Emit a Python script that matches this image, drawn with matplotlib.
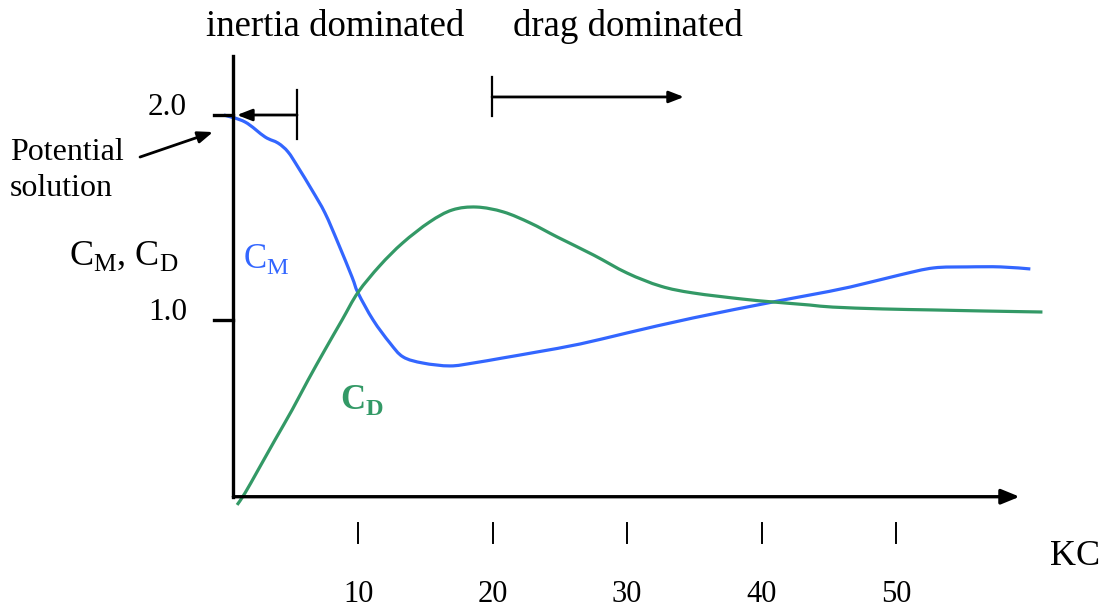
import matplotlib
matplotlib.use("Agg")
import matplotlib.pyplot as plt
from matplotlib.path import Path
from matplotlib.patches import PathPatch

plt.rcParams['font.family'] = ['Liberation Serif', 'DejaVu Serif']
plt.rcParams['mathtext.fontset'] = 'custom'
plt.rcParams['mathtext.rm'] = 'Liberation Serif'
plt.rcParams['mathtext.bf'] = 'Liberation Serif:bold'

# C_M curve (KC, coefficient)
kc_m = [0.0, 1.57, 3.06, 4.03, 4.77, 5.51, 6.55, 7.52, 8.49, 9.53, 9.98, 11.1, 12.35,
        13.33, 14.81, 16.82, 18.53, 20.76, 23.3, 26.5, 30.0, 34.9, 40.85, 43.6, 46.6,
        50.3, 52.8, 55.3, 57.8, 60.0]
cm = [2.0, 1.966, 1.893, 1.863, 1.820, 1.746, 1.634, 1.522, 1.376, 1.210, 1.132, 1.000,
      0.888, 0.820, 0.790, 0.776, 0.790, 0.815, 0.844, 0.883, 0.937, 1.010, 1.088, 1.122,
      1.161, 1.220, 1.254, 1.259, 1.259, 1.249]

# C_D curve
kc_d = [0.98, 1.57, 2.54, 3.80, 5.07, 6.26, 7.52, 8.79, 9.98, 11.6, 13.3, 15.3, 17.0,
        18.8, 20.8, 22.8, 24.8, 27.5, 30.0, 32.5, 34.9, 38.6, 40.85, 43.6, 45.3, 49.0,
        52.8, 56.5, 60.9]
cd = [0.098, 0.156, 0.268, 0.415, 0.561, 0.707, 0.855, 1.000, 1.135, 1.265, 1.376, 1.478,
      1.537, 1.551, 1.527, 1.473, 1.405, 1.317, 1.229, 1.165, 1.132, 1.102, 1.088, 1.073,
      1.063, 1.054, 1.049, 1.044, 1.039]

xticks = [10, 20, 30, 40, 50]
yticks = [1.0, 2.0]

blue = '#3366ff'
green = '#339966'


def smooth_path(xs, ys):
    # Catmull-Rom style bezier through the read points, for a smooth stroke
    verts = [(xs[0], ys[0])]
    codes = [Path.MOVETO]
    n = len(xs)
    for i in range(n - 1):
        xa, ya = (xs[i - 1], ys[i - 1]) if i > 0 else (xs[i], ys[i])
        xb, yb = xs[i], ys[i]
        xc, yc = xs[i + 1], ys[i + 1]
        xd, yd = (xs[i + 2], ys[i + 2]) if i + 2 < n else (xc, yc)
        verts += [(xb + (xc - xa) / 6, yb + (yc - ya) / 6),
                  (xc - (xd - xb) / 6, yc - (yd - yb) / 6),
                  (xc, yc)]
        codes += [Path.CURVE4] * 3
    return Path(verts, codes)


fig = plt.figure(figsize=(11.04, 6.10), dpi=100)
ax = fig.add_axes([0, 0, 1, 1])
ax.set_xlim(-16.66, 65.48)
ax.set_ylim(-0.4146, 2.561)
ax.axis('off')

x0, y0 = 0.7, 0.138   # where the drawn axes cross

# axes with arrow on KC
ax.plot([x0, x0], [y0, 2.29], color='black', lw=2.4, solid_capstyle='projecting')
ax.annotate('', xy=(59.2, y0), xytext=(x0, y0),
            arrowprops=dict(arrowstyle='-|>,head_length=1.1,head_width=0.45',
                            color='black', lw=2.4, shrinkA=0, shrinkB=0))

# y ticks
for v in yticks:
    ax.plot([-0.74, x0], [v, v], color='black', lw=2.4)
    ax.text(-2.75, v + 0.035, f'{v:.1f}', ha='right', va='center', fontsize=22.5)

# x ticks (drawn below the axis)
for t in xticks:
    ax.plot([t, t], [0.01, -0.088], color='black', lw=1.4)
    ax.text(t, -0.341, str(t), ha='center', va='center', fontsize=22)
ax.text(63.3, -0.156, 'KC', ha='center', va='center', fontsize=26)

# curves
ax.add_patch(PathPatch(smooth_path(kc_m, cm), fill=False, edgecolor=blue, lw=2.3,
                       capstyle='butt'))
ax.add_patch(PathPatch(smooth_path(kc_d, cd), fill=False, edgecolor=green, lw=2.3,
                       capstyle='butt'))

# labels
ax.text(-7.45, 1.31, r'C$_{\mathrm{M}}$, C$_{\mathrm{D}}$', ha='center', va='center',
        fontsize=26)
ax.text(1.45, 1.30, r'C$_{\mathrm{M}}$', ha='left', va='center', fontsize=25, color=blue)
ax.text(8.6, 0.61, r'$\mathbf{C}_{\mathbf{D}}$', ha='left', va='center', fontsize=25,
        color=green)

# regime brackets
ax.text(8.26, 2.43, 'inertia dominated', ha='center', va='center', fontsize=26.5)
ax.text(30.06, 2.43, 'drag dominated', ha='center', va='center', fontsize=26.5)
ax.plot([5.44, 5.44], [1.883, 2.122], color='black', lw=1.6)
ax.annotate('', xy=(0.97, 2.0), xytext=(5.44, 2.0),
            arrowprops=dict(arrowstyle='-|>,head_length=0.9,head_width=0.35',
                            color='black', lw=2.0, shrinkA=0, shrinkB=0))
ax.plot([19.95, 19.95], [1.995, 2.185], color='black', lw=1.6)
ax.annotate('', xy=(34.23, 2.088), xytext=(19.95, 2.088),
            arrowprops=dict(arrowstyle='-|>,head_length=0.9,head_width=0.35',
                            color='black', lw=2.0, shrinkA=0, shrinkB=0))

# potential solution note
ax.text(-15.9, 1.73, 'Potential\nsolution', ha='left', va='center', fontsize=23,
        linespacing=1.3)
ax.annotate('', xy=(-0.81, 1.917), xytext=(-6.24, 1.795),
            arrowprops=dict(arrowstyle='-|>,head_length=0.9,head_width=0.35',
                            color='black', lw=2.0, shrinkA=0, shrinkB=0))

fig.savefig('out.png', dpi=100)
